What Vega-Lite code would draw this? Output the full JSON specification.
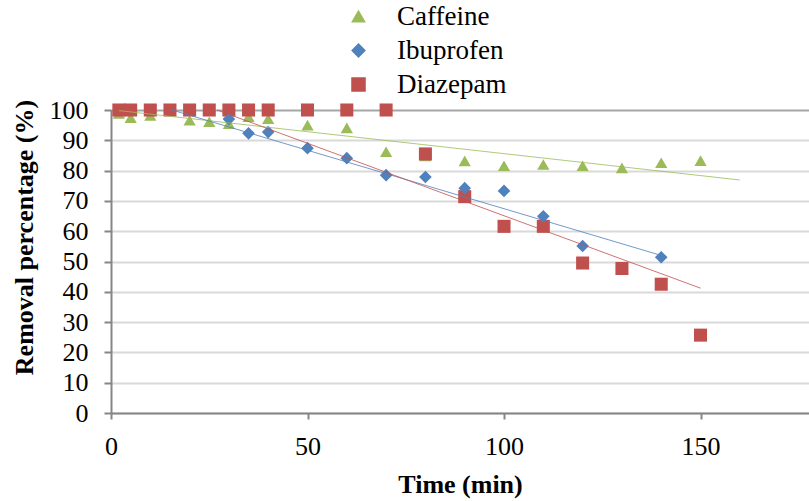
{
  "$schema": "https://vega.github.io/schema/vega-lite/v6.json",
  "width": 698,
  "height": 303,
  "autosize": {"type": "none"},
  "padding": {"left": 111, "top": 110, "right": 0, "bottom": 88},
  "background": "white",
  "config": {
    "view": {"stroke": null},
    "font": "Liberation Serif",
    "axis": {
      "labelFont": "Liberation Serif",
      "labelFontSize": 26,
      "labelColor": "black",
      "labelOverlap": false,
      "titleFont": "Liberation Serif",
      "titleFontSize": 26,
      "titleFontWeight": "bold",
      "titleColor": "black",
      "domainColor": "#868686",
      "domainWidth": 2,
      "tickColor": "#868686",
      "tickWidth": 2
    },
    "legend": {
      "labelFont": "Liberation Serif",
      "labelFontSize": 27,
      "labelColor": "black"
    }
  },
  "datasets": {
    "points": [
      {"series": "Caffeine", "time": 2, "removal": 98.9},
      {"series": "Caffeine", "time": 5, "removal": 97.5},
      {"series": "Caffeine", "time": 10, "removal": 98.2},
      {"series": "Caffeine", "time": 20, "removal": 96.6},
      {"series": "Caffeine", "time": 25, "removal": 96.1},
      {"series": "Caffeine", "time": 30, "removal": 95.5},
      {"series": "Caffeine", "time": 35, "removal": 97.8},
      {"series": "Caffeine", "time": 40, "removal": 97.1},
      {"series": "Caffeine", "time": 50, "removal": 95.0},
      {"series": "Caffeine", "time": 60, "removal": 94.1},
      {"series": "Caffeine", "time": 70, "removal": 86.2},
      {"series": "Caffeine", "time": 80, "removal": 84.8},
      {"series": "Caffeine", "time": 90, "removal": 83.2},
      {"series": "Caffeine", "time": 100, "removal": 81.6},
      {"series": "Caffeine", "time": 110, "removal": 82.0},
      {"series": "Caffeine", "time": 120, "removal": 81.6},
      {"series": "Caffeine", "time": 130, "removal": 80.9},
      {"series": "Caffeine", "time": 140, "removal": 82.6},
      {"series": "Caffeine", "time": 150, "removal": 83.3},
      {"series": "Ibuprofen", "time": 30, "removal": 97.0},
      {"series": "Ibuprofen", "time": 35, "removal": 92.3},
      {"series": "Ibuprofen", "time": 40, "removal": 92.7},
      {"series": "Ibuprofen", "time": 50, "removal": 87.4},
      {"series": "Ibuprofen", "time": 60, "removal": 84.1},
      {"series": "Ibuprofen", "time": 70, "removal": 78.5},
      {"series": "Ibuprofen", "time": 80, "removal": 77.9},
      {"series": "Ibuprofen", "time": 90, "removal": 74.2},
      {"series": "Ibuprofen", "time": 100, "removal": 73.3},
      {"series": "Ibuprofen", "time": 110, "removal": 64.9},
      {"series": "Ibuprofen", "time": 120, "removal": 55.1},
      {"series": "Ibuprofen", "time": 140, "removal": 51.4},
      {"series": "Diazepam", "time": 2, "removal": 100},
      {"series": "Diazepam", "time": 5, "removal": 100},
      {"series": "Diazepam", "time": 10, "removal": 100},
      {"series": "Diazepam", "time": 15, "removal": 100},
      {"series": "Diazepam", "time": 20, "removal": 100},
      {"series": "Diazepam", "time": 25, "removal": 100},
      {"series": "Diazepam", "time": 30, "removal": 100},
      {"series": "Diazepam", "time": 35, "removal": 100},
      {"series": "Diazepam", "time": 40, "removal": 100},
      {"series": "Diazepam", "time": 50, "removal": 100},
      {"series": "Diazepam", "time": 60, "removal": 100},
      {"series": "Diazepam", "time": 70, "removal": 100},
      {"series": "Diazepam", "time": 80, "removal": 85.5},
      {"series": "Diazepam", "time": 90, "removal": 71.4},
      {"series": "Diazepam", "time": 100, "removal": 61.6},
      {"series": "Diazepam", "time": 110, "removal": 61.6},
      {"series": "Diazepam", "time": 120, "removal": 49.5},
      {"series": "Diazepam", "time": 130, "removal": 47.7},
      {"series": "Diazepam", "time": 140, "removal": 42.5},
      {"series": "Diazepam", "time": 150, "removal": 25.7}
    ],
    "trend": [
      {"series": "Caffeine", "time": 2, "removal": 99.8},
      {"series": "Caffeine", "time": 160, "removal": 76.9},
      {"series": "Ibuprofen", "time": 15, "removal": 100.2},
      {"series": "Ibuprofen", "time": 140, "removal": 52.0},
      {"series": "Diazepam", "time": 27, "removal": 100},
      {"series": "Diazepam", "time": 150, "removal": 41.2}
    ]
  },
  "layer": [
    {
      "data": {"name": "points"},
      "mark": {"type": "point", "filled": true, "opacity": 1, "strokeWidth": 0, "clip": false},
      "encoding": {
        "x": {
          "field": "time",
          "type": "quantitative",
          "scale": {"domain": [0, 177.6], "nice": false, "zero": false},
          "axis": {
            "values": [0, 50, 100, 150],
            "grid": false,
            "tickSize": 6,
            "labelPadding": 14,
            "labelFlush": false,
            "title": "Time (min)",
            "titleBaseline": "alphabetic",
            "titleY": 79
          }
        },
        "y": {
          "field": "removal",
          "type": "quantitative",
          "scale": {"domain": [0, 100], "nice": false},
          "axis": {
            "values": [0, 10, 20, 30, 40, 50, 60, 70, 80, 90, 100],
            "tickCount": 11,
            "grid": true,
            "gridColor": {"condition": {"test": "datum.value === 100", "value": "#A6A6A6"}, "value": "#D9D9D9"},
            "gridWidth": 2,
            "tickSize": 7,
            "labelPadding": 16,
            "title": "Removal percentage (%)",
            "titleBaseline": "alphabetic",
            "titleAlign": "center",
            "titleAngle": -90,
            "titleX": -79,
            "titleY": 127
          }
        },
        "color": {
          "field": "series",
          "type": "nominal",
          "scale": {"domain": ["Caffeine", "Ibuprofen", "Diazepam"], "range": ["#9BBB59", "#4F81BD", "#C0504D"]},
          "legend": {
            "orient": "none",
            "legendX": 234,
            "legendY": -107,
            "title": null,
            "symbolSize": 120,
            "labelOffset": 25,
            "rowPadding": 6,
            "padding": 0
          }
        },
        "shape": {
          "field": "series",
          "type": "nominal",
          "scale": {"domain": ["Caffeine", "Ibuprofen", "Diazepam"], "range": ["triangle-up", "diamond", "square"]},
          "legend": {
            "orient": "none",
            "legendX": 234,
            "legendY": -107,
            "title": null,
            "symbolSize": 120,
            "labelOffset": 25,
            "rowPadding": 6,
            "padding": 0
          }
        },
        "size": {
          "field": "series",
          "type": "nominal",
          "scale": {"domain": ["Caffeine", "Ibuprofen", "Diazepam"], "range": [150, 170, 140]},
          "legend": null
        },
        "order": {"field": "series", "sort": "ascending"}
      }
    },
    {
      "data": {"name": "trend"},
      "mark": {"type": "line", "strokeWidth": 1, "opacity": 0.8},
      "encoding": {
        "x": {"field": "time", "type": "quantitative"},
        "y": {"field": "removal", "type": "quantitative"},
        "color": {"field": "series", "type": "nominal", "legend": null},
        "detail": {"field": "series"}
      }
    }
  ]
}
